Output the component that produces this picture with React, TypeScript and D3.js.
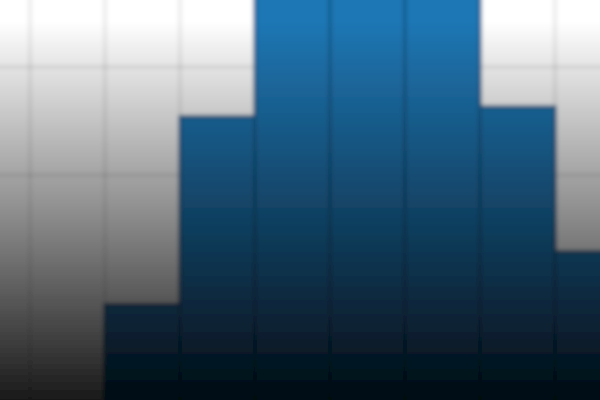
import React from "react";
import * as d3 from "d3";

const bins = [-1, 0, 1, 2, 3, 4, 5, 6];
const counts = [0, 18, 35.4, 52, 54, 51, 36.3, 22.9];
const yTicks = [30, 40];

const W = 600;
const H = 400;

export default function App() {
  const x = d3.scaleLinear().domain([-1, 7]).range([30, 630]);
  const y = d3.scaleLinear().domain([10, 40]).range([391, 67]);
  const xGrid = d3.range(-1, 8);
  return (
    <svg
      width={W}
      height={H}
      style={{ position: "fixed", left: 0, top: 0, display: "block" }}
    >
      <defs>
        <linearGradient id="shade" x1="0" y1="0" x2="0" y2="1">
          <stop offset="0" stopColor="#000" stopOpacity={0} />
          <stop offset="0.05" stopColor="#000" stopOpacity={0.0} />
          <stop offset="0.5" stopColor="#000" stopOpacity={0.44} />
          <stop offset="1" stopColor="#000" stopOpacity={0.95} />
        </linearGradient>
        <filter id="blur" x="-5%" y="-5%" width="110%" height="110%">
          <feGaussianBlur stdDeviation={2.2} />
        </filter>
      </defs>
      <g filter="url(#blur)">
        <rect x={-20} y={-20} width={W + 40} height={H + 40} fill="#ffffff" />
        {xGrid.map((v) => (
          <line
            key={"gx" + v}
            x1={x(v)}
            x2={x(v)}
            y1={-20}
            y2={H + 20}
            stroke="#000"
            strokeOpacity={0.1}
            strokeWidth={3}
          />
        ))}
        {yTicks.map((v) => (
          <line
            key={"gy" + v}
            x1={-20}
            x2={W + 20}
            y1={y(v)}
            y2={y(v)}
            stroke="#000"
            strokeOpacity={0.1}
            strokeWidth={3}
          />
        ))}
        {bins.map((b, i) =>
          counts[i] > 0 ? (
            <rect
              key={"b" + b}
              x={x(b)}
              y={y(counts[i])}
              width={x(b + 1) - x(b)}
              height={H + 40 - y(counts[i])}
              fill="#1f77b4"
              stroke="#155a8c"
              strokeWidth={3}
            />
          ) : null
        )}
        <rect x={-20} y={0} width={W + 40} height={H + 20} fill="url(#shade)" />
      </g>
    </svg>
  );
}
